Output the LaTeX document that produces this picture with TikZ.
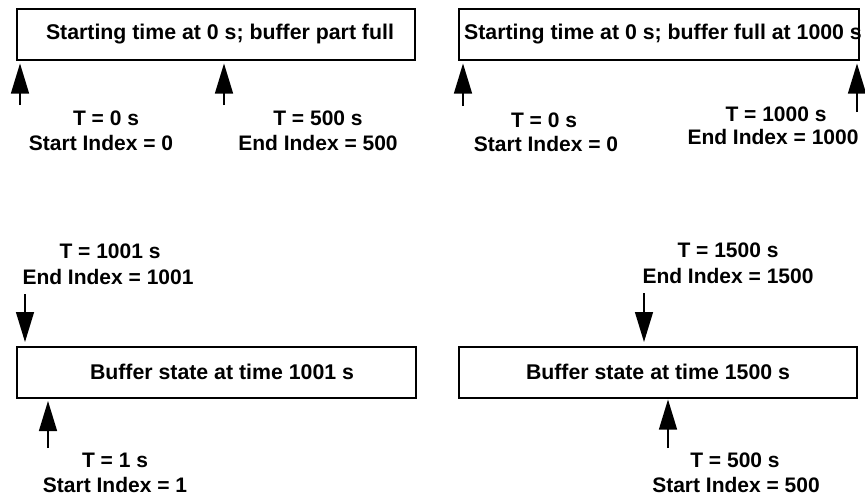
\documentclass[tikz,border=0pt]{standalone}
\usepackage{fontspec}
\setmainfont{Liberation Sans}
\usetikzlibrary{arrows.meta}

\begin{document}
\begin{tikzpicture}[x=1pt,y=-1pt,
  bufbox/.style={draw,line width=2pt,inner sep=0pt,minimum width=#1,minimum height=51pt},
  btext/.style={anchor=base,inner sep=0pt,font=\fontsize{21.3}{25}\selectfont\bfseries},
  lbl/.style={anchor=base,inner sep=0pt,font=\fontsize{21}{25}\selectfont\bfseries},
  ptr/.style={line width=1.3pt,-{Triangle[length=30pt,width=18pt]}}]
\useasboundingbox (0,0) rectangle (865,496);

% ---- buffer boxes
\node[bufbox=398pt] (b1) at (216,34.5) {};
\node[bufbox=400pt] (b2) at (659,34.5) {};
\node[bufbox=399pt] (b3) at (216.5,372) {};
\node[bufbox=398pt] (b4) at (658,372) {};

\node[btext] (h1) at (220,39.5) {Starting time at 0 s; buffer part full};
\node[btext] (h2) at (663,39.5) {Starting time at 0 s; buffer full at 1000 s};
\node[btext] (h3) at (222,379.5) {Buffer state at time 1001 s};
\node[btext] (h4) at (658,379.5) {Buffer state at time 1500 s};

% ---- index labels
\node[lbl] (l1a) at (106,125) {T = 0 s};
\node[lbl] (l1b) at (101,150) {Start Index = 0};
\node[lbl] (l2a) at (318,125) {T = 500 s};
\node[lbl] (l2b) at (318,150) {End Index = 500};
\node[lbl] (l3a) at (544,127.5) {T = 0 s};
\node[lbl] (l3b) at (546,151.5) {Start Index = 0};
\node[lbl] (l4a) at (776,121.5) {T = 1000 s};
\node[lbl] (l4b) at (773,144.5) {End Index = 1000};
\node[lbl] (l5a) at (110,258.5) {T = 1001 s};
\node[lbl] (l5b) at (108,284.5) {End Index = 1001};
\node[lbl] (l6a) at (115,467.5) {T = 1 s};
\node[lbl] (l6b) at (115,492.5) {Start Index = 1};
\node[lbl] (l7a) at (728,257.5) {T = 1500 s};
\node[lbl] (l7b) at (728,283.5) {End Index = 1500};
\node[lbl] (l8a) at (735,467.5) {T = 500 s};
\node[lbl] (l8b) at (736,492.5) {Start Index = 500};

% ---- arrow tails
\coordinate (p1) at (20,105);
\coordinate (p2) at (224,105);
\coordinate (p3) at (463,106);
\coordinate (p4) at (857,112);
\coordinate (p5) at (25,294);
\coordinate (p6) at (48,448);
\coordinate (p7) at (644,293);
\coordinate (p8) at (668,448);

% ---- pointers into the buffers
\draw[ptr] (p1) -- ([yshift=-2.5pt]p1 |- b1.south);
\draw[ptr] (p2) -- ([yshift=-2.5pt]p2 |- b1.south);
\draw[ptr] (p3) -- ([yshift=-2.5pt]p3 |- b2.south);
\draw[ptr] (p4) -- ([yshift=-2.5pt]p4 |- b2.south);
\draw[ptr] (p5) -- ([yshift=3.5pt]p5 |- b3.north);
\draw[ptr] (p6) -- ([yshift=-2.5pt]p6 |- b3.south);
\draw[ptr] (p7) -- ([yshift=3.5pt]p7 |- b4.north);
\draw[ptr] (p8) -- ([yshift=-1pt]p8 |- b4.south);
\end{tikzpicture}
\end{document}
